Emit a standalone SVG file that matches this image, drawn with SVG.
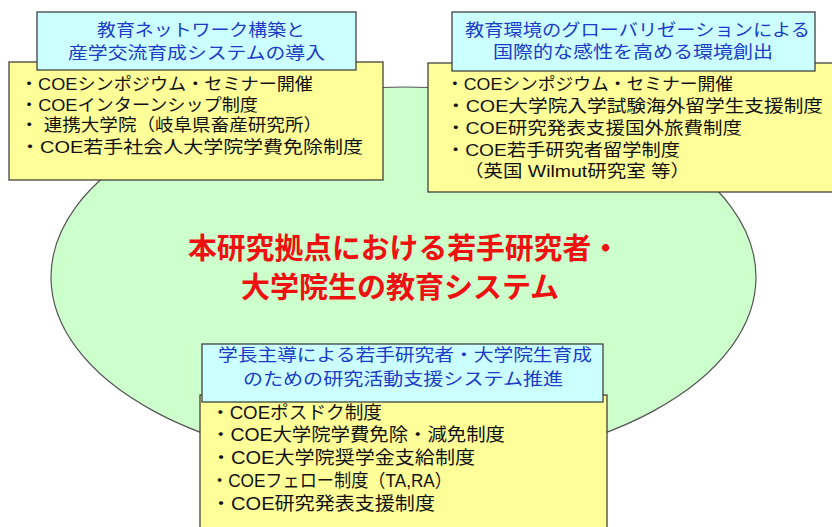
<svg xmlns="http://www.w3.org/2000/svg" width="832" height="527" viewBox="0 0 832 527">
<style>
.ell{fill:#CCFFCC;stroke:#555;stroke-width:1.2}
.yb{fill:#FFFF99;stroke:#333;stroke-width:1.2}
.bb{fill:#CCFFFF;stroke:#333;stroke-width:1.2}
text{font-family:"Liberation Sans","Noto Sans CJK JP",sans-serif}
.tt{font-size:17px;fill:#1a3cc8}
.it{font-size:17px;fill:#111}
.it2{font-size:18px;fill:#111}
.ct{font-size:29px;font-weight:bold;fill:#EE1111}
</style>
<rect width="832" height="527" fill="#fff"/>
<g id="center">
<ellipse class="ell" cx="403.5" cy="277" rx="352.5" ry="190"/>
<text class="ct" x="404" y="259" text-anchor="middle" textLength="432" lengthAdjust="spacingAndGlyphs">本研究拠点における若手研究者・</text>
<text class="ct" x="400" y="298" text-anchor="middle" textLength="318" lengthAdjust="spacingAndGlyphs">大学院生の教育システム</text>
</g>
<g id="topleft">
<rect class="yb" x="9" y="62" width="374" height="118"/>
<rect class="bb" x="37" y="12" width="319" height="58"/>
<text class="tt" x="201" y="36" text-anchor="middle" textLength="208" lengthAdjust="spacingAndGlyphs">教育ネットワーク構築と</text>
<text class="tt" x="196.5" y="58.5" text-anchor="middle" textLength="257" lengthAdjust="spacingAndGlyphs">産学交流育成システムの導入</text>
<text class="it" x="20" y="90" textLength="293" lengthAdjust="spacingAndGlyphs">・COEシンポジウム・セミナー開催</text>
<text class="it" x="20" y="110.5" textLength="238" lengthAdjust="spacingAndGlyphs">・COEインターンシップ制度</text>
<text class="it" x="20" y="131" textLength="302" lengthAdjust="spacingAndGlyphs">・ 連携大学院（岐阜県畜産研究所）</text>
<text class="it" x="20" y="153" textLength="343" lengthAdjust="spacingAndGlyphs">・COE若手社会人大学院学費免除制度</text>
</g>
<g id="topright">
<rect class="yb" x="428" y="63" width="410" height="129"/>
<rect class="bb" x="452" y="12" width="363" height="59"/>
<text class="tt" x="637.5" y="36" text-anchor="middle" textLength="345" lengthAdjust="spacingAndGlyphs">教育環境のグローバリゼーションによる</text>
<text class="tt" x="633" y="58" text-anchor="middle" textLength="280" lengthAdjust="spacingAndGlyphs">国際的な感性を高める環境創出</text>
<text class="it" x="446" y="90" textLength="287" lengthAdjust="spacingAndGlyphs">・COEシンポジウム・セミナー開催</text>
<text class="it" x="446" y="112" textLength="377" lengthAdjust="spacingAndGlyphs">・COE大学院入学試験海外留学生支援制度</text>
<text class="it" x="446" y="134" textLength="296" lengthAdjust="spacingAndGlyphs">・COE研究発表支援国外旅費制度</text>
<text class="it" x="446" y="156" textLength="234" lengthAdjust="spacingAndGlyphs">・COE若手研究者留学制度</text>
<text class="it" x="464" y="177" textLength="226" lengthAdjust="spacingAndGlyphs">（英国 Wilmut研究室 等）</text>
</g>
<g id="bottom">
<rect class="yb" x="200" y="395" width="407" height="140"/>
<rect class="bb" x="202" y="344" width="401" height="58"/>
<text class="tt" x="405" y="361" text-anchor="middle" textLength="374" lengthAdjust="spacingAndGlyphs">学長主導による若手研究者・大学院生育成</text>
<text class="tt" x="403" y="385" text-anchor="middle" textLength="320" lengthAdjust="spacingAndGlyphs">のための研究活動支援システム推進</text>
<text class="it2" x="211" y="419" textLength="171" lengthAdjust="spacingAndGlyphs">・COEポスドク制度</text>
<text class="it2" x="211" y="441" textLength="294" lengthAdjust="spacingAndGlyphs">・COE大学院学費免除・減免制度</text>
<text class="it2" x="211" y="464" textLength="264" lengthAdjust="spacingAndGlyphs">・COE大学院奨学金支給制度</text>
<text class="it2" x="211" y="487" textLength="241" lengthAdjust="spacingAndGlyphs">・COEフェロー制度（TA,RA）</text>
<text class="it2" x="211" y="510" textLength="224" lengthAdjust="spacingAndGlyphs">・COE研究発表支援制度</text>
</g>
<g id="connectors"/>
</svg>
